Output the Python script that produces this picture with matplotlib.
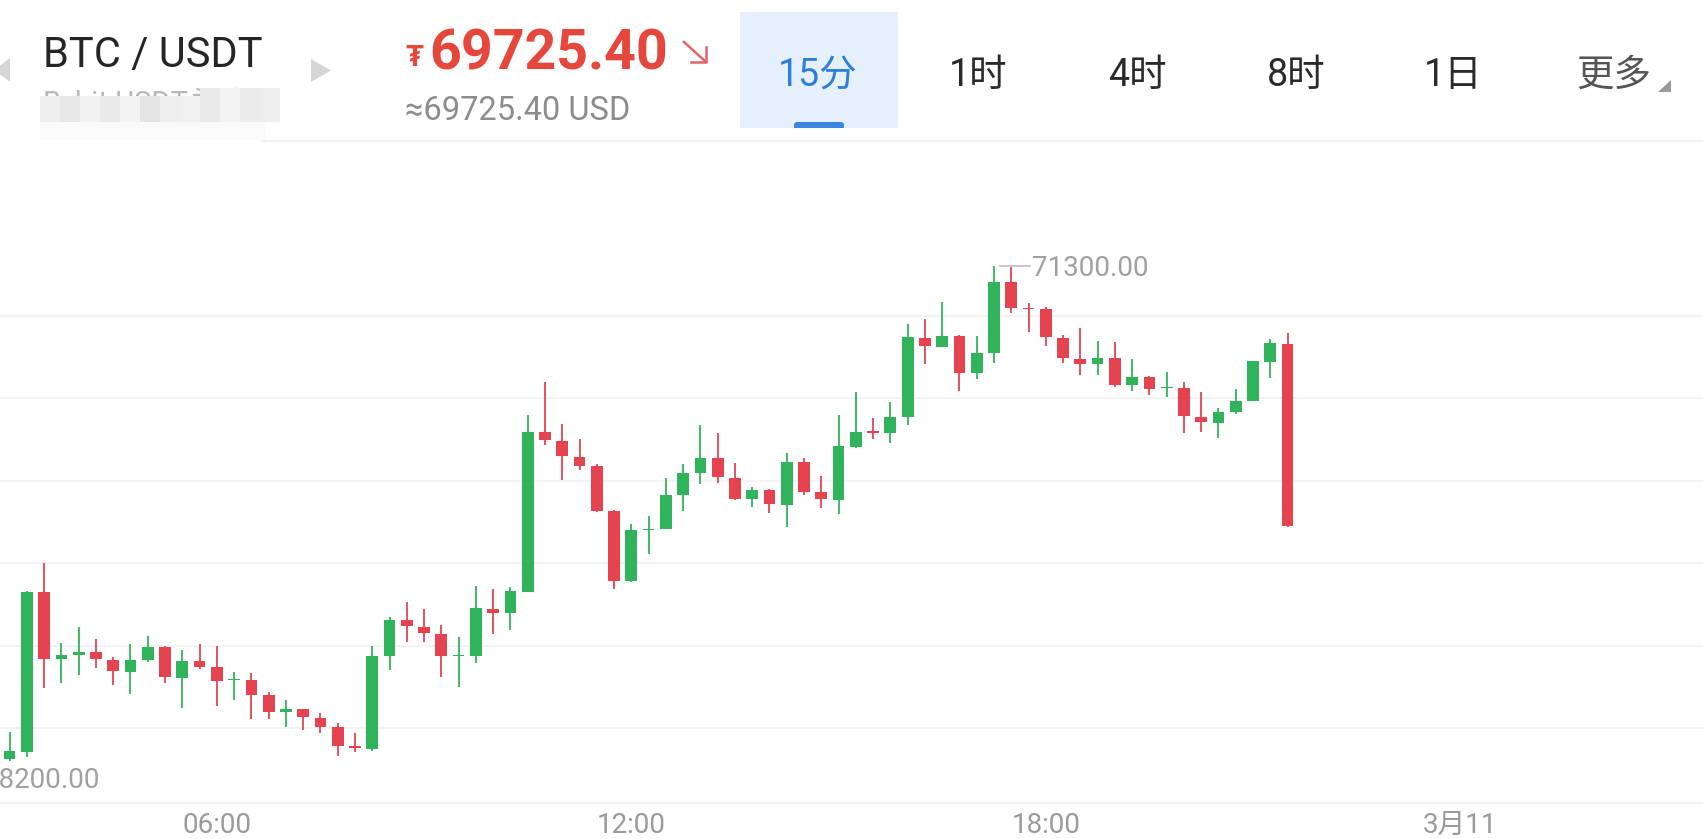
import numpy as np
import matplotlib
matplotlib.use("Agg")
import matplotlib.pyplot as plt
import matplotlib.transforms as mtransforms
from matplotlib.patches import Rectangle, Polygon, FancyBboxPatch

plt.rcParams['font.family'] = ['Roboto', 'Noto Sans CJK SC', 'DejaVu Sans']

# 15-minute candles, 10 Mar 02:45 .. 21:30 (first one sits just off the left edge)
opens = [68350, 68313, 68359, 69325, 68920, 68945, 68962, 68915, 68844, 68915,
         68996, 68804, 68907, 68873, 68792, 68792, 68701, 68598, 68616, 68562,
         68507, 68392, 68378, 68939, 69158, 69117, 69071, 68938, 68939, 69224,
         69198, 69329, 70295, 70243, 70147, 70091, 69820, 69394, 69701, 69711,
         69915, 70047, 70138, 70018, 69891, 69945, 69855, 70113, 69933, 69885,
         70208, 70301, 70289, 70390, 70865, 70814, 70879, 70653, 70774, 71204,
         71050, 71041, 70868, 70739, 70707, 70744, 70582, 70629, 70562, 70562,
         70390, 70353, 70416, 70487, 70723, 70829]
highs = [68420, 68481, 69332, 69501, 69016, 69117, 69041, 68932, 69010, 69061,
         69000, 68976, 69010, 69000, 68841, 68835, 68723, 68673, 68618, 68592,
         68532, 68475, 69002, 69178, 69269, 69224, 69127, 69053, 69364, 69344,
         69359, 70400, 70602, 70344, 70253, 70101, 69824, 69738, 69788, 70016,
         70103, 70338, 70293, 70107, 69966, 69952, 70168, 70138, 70030, 70400,
         70541, 70380, 70477, 70952, 70980, 71083, 70885, 70881, 71300, 71295,
         71081, 71056, 70885, 70926, 70850, 70844, 70738, 70636, 70663, 70602,
         70538, 70441, 70556, 70727, 70862, 70899]
lows = [68200, 68305, 68329, 68747, 68774, 68824, 68869, 68764, 68707, 68905,
        68774, 68626, 68859, 68636, 68673, 68556, 68556, 68507, 68491, 68475,
        68333, 68358, 68364, 68855, 69026, 69026, 68810, 68753, 68899, 69071,
        69097, 69325, 70218, 70006, 70067, 69814, 69344, 69390, 69556, 69708,
        69820, 69980, 69986, 69885, 69844, 69804, 69723, 69915, 69838, 69798,
        70198, 70255, 70232, 70339, 70707, 70810, 70546, 70616, 70713, 71016,
        70905, 70820, 70713, 70642, 70642, 70572, 70546, 70521, 70511, 70289,
        70295, 70259, 70406, 70487, 70623, 69720]
closes = [68310, 68365, 69329, 68921, 68945, 68966, 68921, 68849, 68915, 68996,
          68810, 68911, 68873, 68790, 68798, 68703, 68602, 68618, 68568, 68511,
          68394, 68384, 68941, 69158, 69123, 69077, 68939, 68945, 69229, 69198,
          69333, 70299, 70249, 70153, 70093, 69820, 69396, 69703, 69711, 69917,
          70050, 70139, 70023, 69891, 69945, 69859, 70115, 69935, 69891, 70212,
          70299, 70291, 70390, 70871, 70818, 70881, 70656, 70774, 71208, 71050,
          71042, 70871, 70744, 70709, 70747, 70582, 70629, 70556, 70570, 70396,
          70359, 70420, 70487, 70727, 70835, 69725.40]

time_ticks = [12, 36, 60, 84]          # candle positions of the labels
time_labels = ["06:00", "12:00", "18:00", "3月11"]
grid_prices = [68500, 69000, 69500, 70000, 70500, 71000]
tabs = ["15分", "1时", "4时", "8时", "1日", "更多"]
tab_x = [818, 978, 1137, 1296, 1453, 1614]

GREEN = "#31B35C"
RED = "#E5434F"

W, H = 1703, 839
fig = plt.figure(figsize=(W / 100, H / 100), dpi=100)
fig.patch.set_facecolor("white")

# chart area in figure pixels
top_px, bot_px = 141, 803
px_per_candle, x0_px = 17.27, 9.6
usd_per_px = 500 / 82.5
price_at = lambda y: 71000 - (y - 316) * usd_per_px

ax = fig.add_axes([0, (H - bot_px) / H, 1, (bot_px - top_px) / H])
ax.set_xlim((0 - x0_px) / px_per_candle, (W - x0_px) / px_per_candle)
ax.set_ylim(price_at(bot_px), price_at(top_px))
ax.axis("off")

for g in grid_prices:
    ax.axhline(g, color="#F1F1F1", lw=1.1, zorder=0)

pos = np.arange(len(opens)) - 1
o = np.array(opens); c = np.array(closes)
hi = np.array(highs); lo = np.array(lows)
cols = [GREEN if cc >= oo else RED for oo, cc in zip(o, c)]
ax.vlines(pos, lo, hi, colors=cols, lw=1.3, zorder=2)
body = np.maximum(np.abs(c - o), 8)
ax.bar(pos, body, bottom=np.minimum(o, c), width=0.68, color=cols,
       zorder=3, linewidth=0)

# overlay in pixel coordinates for header and labels
ov = fig.add_axes([0, 0, 1, 1], facecolor="none")
ov.set_xlim(0, W); ov.set_ylim(H, 0)
ov.axis("off")

ov.plot([0, W], [bot_px, bot_px], color="#EEEEEE", lw=1.2)
ov.plot([262, W], [top_px, top_px], color="#EEEEEE", lw=1.2)

blend = mtransforms.blended_transform_factory(ax.transData, ov.transData)
for t, lab in zip(time_ticks, time_labels):
    ov.text(t, 833, lab, transform=blend, ha="center", va="baseline",
            fontsize=20, color="#9A9A9A")

# max / min markers
imax = int(np.argmax(hi)); imin = int(np.argmin(lo))
ax.plot([pos[imax] + 0.35, pos[imax] + 2.1], [hi[imax], hi[imax]],
        color="#BDBDBD", lw=1.2, zorder=4)
ov.text(pos[imax] + 2.2, 276, f"{hi[imax]:.2f}", transform=blend,
        ha="left", va="baseline", fontsize=20, color="#A0A0A0")
ov.text(pos[imin] - 0.5, 788, f"{lo[imin]:.2f}", transform=blend,
        ha="left", va="baseline", fontsize=20, color="#A0A0A0")

# header: pair name
ov.add_patch(Polygon([[10, 58], [10, 82], [-6, 70]], closed=True,
                     color="#D6D6D6", lw=0))
ov.add_patch(Polygon([[311, 59], [311, 82], [331, 70.5]], closed=True,
                     color="#D6D6D6", lw=0))
ov.text(43, 67, "BTC / USDT", fontsize=30, color="#252525", va="baseline")
ov.text(43, 112, "Bybit USDT永续", fontsize=21, color="#B8B8B8",
        va="baseline", zorder=2)
# pixelated cover over the subtitle
shades = ["#EEEEEE", "#E7E7E7", "#F2F2F2", "#EAEAEA", "#F4F4F4", "#E5E5E5",
          "#EFEFEF", "#F0F0F0", "#E9E9E9", "#F3F3F3", "#ECECEC"]
for k, xs in enumerate(range(40, 264, 20)):
    ytop = 96 if xs < 200 else 88
    ov.add_patch(Rectangle((xs, ytop), 20, 122 - ytop,
                           color=shades[k % len(shades)], lw=0, zorder=5))
ov.add_patch(Rectangle((40, 122), 225, 18, color="#FAFAFA", lw=0, zorder=5))

# header: price
ov.text(405, 66, "₮", fontsize=21, fontweight="bold", color="#E6473D",
        va="baseline")
ov.text(429, 70, "69725.40", fontsize=40, fontweight="bold",
        color="#E6473D", va="baseline")
ov.plot([684, 706], [42, 62], color="#E2646C", lw=1.8)
ov.plot([691, 706, 706], [62, 62, 47], color="#E2646C", lw=1.8)
ov.text(405, 120.5, "≈69725.40 USD", fontsize=23.5, color="#8C8C8C",
        va="baseline")

# header: interval tabs
ov.add_patch(Rectangle((740, 12), 158, 116, color="#E6F0FC", lw=0))
ov.add_patch(FancyBboxPatch((794, 122), 50, 8,
                            boxstyle="round,pad=0,rounding_size=3",
                            color="#3A86E0", lw=0))
ov.add_patch(Rectangle((740, 127.5), 158, 4, color="white", lw=0))
for k, (lab, tx) in enumerate(zip(tabs, tab_x)):
    col = "#2D7FD9" if k == 0 else ("#555555" if lab == "更多" else "#2A2A2A")
    ov.text(tx, 86, lab, fontsize=27, color=col, ha="center", va="baseline")
ov.add_patch(Polygon([[1671, 80], [1671, 92], [1658, 92]], closed=True,
                     color="#9A9A9A", lw=0))

fig.savefig("out.png", dpi=100, facecolor="white")
